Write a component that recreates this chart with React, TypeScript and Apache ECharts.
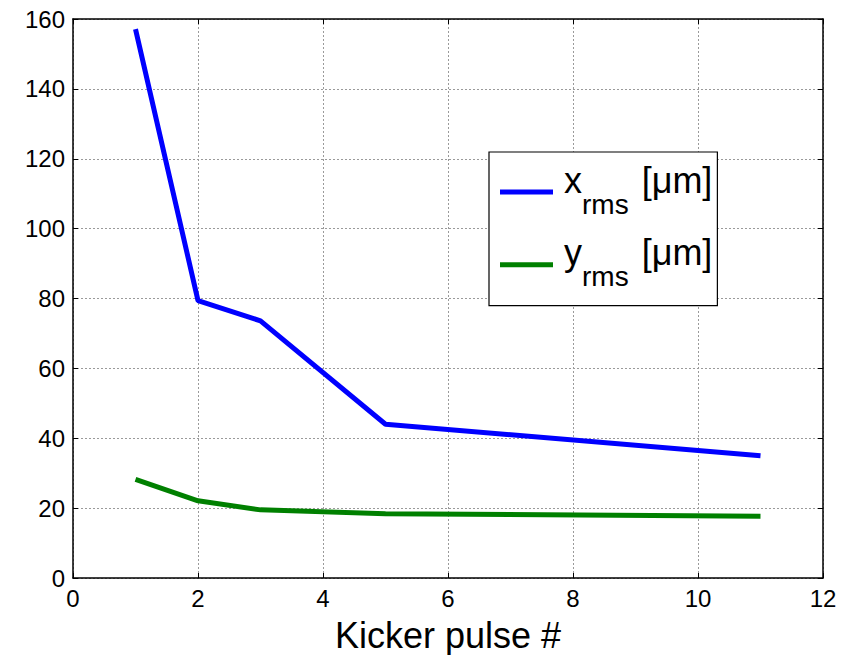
import React, { useEffect, useRef } from "react";
import * as echarts from "echarts";

const pulses = [1, 2, 3, 5, 11];
const xRms = [157.1, 79.4, 73.6, 44.0, 35.0];
const yRms = [28.2, 22.1, 19.5, 18.4, 17.7];
const seriesNames = ["x_rms", "y_rms"];
const legendMain = ["x", "y"];
const xTitle = "Kicker pulse #";

const FONT = "'Liberation Sans', Arial, Helvetica, sans-serif";

export default function App() {
  const ref = useRef<HTMLDivElement>(null);
  useEffect(() => {
    document.body.style.margin = "0";
    if (!ref.current) return;
    const chart = echarts.init(ref.current, undefined, { renderer: "svg" });
    const pair = (ys: number[]) => pulses.map((p, i) => [p, ys[i]]);
    const tickInside = { show: true, inside: true, length: 5, lineStyle: { color: "#000", width: 1 } };
    const axLine = { show: true, lineStyle: { color: "#000", width: 1.5 } };
    const grid = { color: "#9a9a9a", type: [2, 2] as any, width: 1 };
    chart.setOption({
      animation: false,
      backgroundColor: "#fff",
      textStyle: { fontFamily: FONT },
      grid: { left: 73, right: 33, top: 19, bottom: 77, containLabel: false, outerBoundsMode: "none" } as any,
      xAxis: [
        {
          type: "value", min: 0, max: 12, interval: 2, position: "bottom",
          axisLine: { ...axLine, onZero: false }, axisTick: tickInside,
          axisLabel: { color: "#000", fontSize: 24, margin: 8, fontFamily: FONT },
          splitLine: { show: true, lineStyle: grid },
          name: xTitle, nameLocation: "middle", nameGap: 39,
          nameTextStyle: { color: "#000", fontSize: 36, fontFamily: FONT },
        },
        {
          type: "value", min: 0, max: 12, interval: 2, position: "top",
          axisLine: { ...axLine, onZero: false }, axisTick: tickInside,
          axisLabel: { show: false }, splitLine: { show: false },
        },
      ],
      yAxis: [
        {
          type: "value", min: 0, max: 160, interval: 20, position: "left",
          axisLine: { ...axLine, onZero: false }, axisTick: tickInside,
          axisLabel: { color: "#000", fontSize: 24, margin: 8, fontFamily: FONT },
          splitLine: { show: true, lineStyle: grid },
        },
        {
          type: "value", min: 0, max: 160, interval: 20, position: "right",
          axisLine: { ...axLine, onZero: false }, axisTick: tickInside,
          axisLabel: { show: false }, splitLine: { show: false },
        },
      ],
      legend: {
        orient: "vertical",
        left: 489,
        top: 152,
        padding: [10, 5, 11, 11],
        itemGap: 12.7,
        itemWidth: 53,
        itemHeight: 5,
        icon: "rect",
        backgroundColor: "#fff",
        borderColor: "#000",
        borderWidth: 1.2,
        data: seriesNames,
        formatter: (name: string) => {
          const i = seriesNames.indexOf(name);
          return `{m|${legendMain[i]}}{s|rms}{b|[μm]}`;
        },
        textStyle: {
          color: "#000",
          fontFamily: FONT,
          padding: [0, 0, 0, 6],
          rich: {
            m: { fontSize: 36, lineHeight: 36, padding: [0, 0, 24, 0], fontFamily: FONT, color: "#000", verticalAlign: "middle" },
            b: { fontSize: 36, lineHeight: 36, padding: [0, 0, 24, 13], fontFamily: FONT, color: "#000", verticalAlign: "middle" },
            s: { fontSize: 28, lineHeight: 28, padding: [24, 0, 0, 0], fontFamily: FONT, color: "#000", verticalAlign: "middle" },
          },
        },
      },
      series: [
        {
          name: seriesNames[0], type: "line", data: pair(xRms), symbol: "none",
          lineStyle: { color: "#0000ff", width: 5 }, itemStyle: { color: "#0000ff" },
        },
        {
          name: seriesNames[1], type: "line", data: pair(yRms), symbol: "none",
          lineStyle: { color: "#008000", width: 5 }, itemStyle: { color: "#008000" },
        },
      ],
    });
    return () => chart.dispose();
  }, []);
  return <div ref={ref} style={{ width: 856, height: 655 }} />;
}
